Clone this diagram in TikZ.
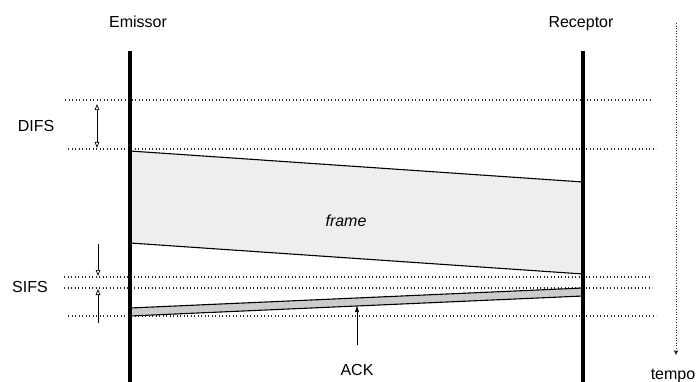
\documentclass[tikz,border=0pt]{standalone}
\usepackage{fontspec}
\setmainfont{Liberation Sans}
\usetikzlibrary{arrows.meta, positioning, calc}
\definecolor{framegray}{RGB}{238,238,238}
\definecolor{ackgray}{RGB}{204,204,204}
\definecolor{dotgray}{RGB}{40,40,40}

\begin{document}
\begin{tikzpicture}[x=1pt, y=-1pt,
    lbl/.style={font=\fontsize{16}{19}\selectfont, inner sep=0pt, anchor=base},
    station/.style={line width=3.8pt},
    slot/.style={dotgray, line width=1.1pt, dash pattern=on 1.1pt off 2.4pt},
    opentip/.tip={Triangle[open, length=6pt, width=4.5pt]},
    gaparrow/.style={line width=0.7pt, -opentip},
    msg/.style={draw=black, line width=1.1pt}]
  \useasboundingbox (0,0) rectangle (696,382);

  % stations
  \node[lbl] (emissor) at (138,28) {Emissor};
  \node[lbl] (receptor) at (581,28) {Receptor};
  \coordinate (etop) at (130,51);
  \coordinate (ebot) at (130,382);
  \coordinate (rtop) at (583,51);
  \coordinate (rbot) at (583,382);

  % time slots
  \coordinate (d1l) at (65,100);  \coordinate (d1r) at (652,100);
  \coordinate (d2l) at (68,149);  \coordinate (d2r) at (656,149);
  \coordinate (s1l) at (64,277);  \coordinate (s1r) at (652,277);
  \coordinate (s2l) at (64,288);  \coordinate (s2r) at (652,288);
  \coordinate (s3l) at (68,316);  \coordinate (s3r) at (656,316);
  \foreach \a/\b in {d1l/d1r, d2l/d2r, s1l/s1r, s2l/s2r, s3l/s3r}
    \draw[slot] (\a) -- (\b);

  % frame and ACK
  \draw[msg, fill=framegray] (130,151) -- (583,182) -- (583,274) -- (130,243) -- cycle;
  \node[lbl, font=\fontsize{16}{19}\selectfont\itshape] (frame) at (346,227) {frame};
  \draw[msg, fill=ackgray] (130,308) -- (583,288) -- (583,296) -- (130,316) -- cycle;

  \draw[station] (etop) -- (ebot);
  \draw[station] (rtop) -- (rbot);

  % DIFS
  \node[lbl] (difs) at (36,132) {DIFS};
  \coordinate (da) at (97,104);
  \coordinate (db) at (97,148);
  \draw[line width=0.7pt, opentip-opentip] (da) -- (db);

  % SIFS
  \node[lbl] (sifs) at (30,292) {SIFS};
  \coordinate (sa) at (98,244);
  \coordinate (sb) at (98,276);
  \coordinate (sc) at (98,323);
  \coordinate (sd) at (98,289);
  \draw[gaparrow] (sa) -- (sb);
  \draw[gaparrow] (sc) -- (sd);

  % ACK
  \node[lbl] (ack) at (357,375) {ACK};
  \coordinate (ackfoot) at (357,345);
  \coordinate (ackhit) at (357,306);
  \draw[line width=0.8pt, -{Triangle[length=6pt, width=4pt]}] (ackfoot) -- (ackhit);

  % tempo
  \coordinate (t0) at (676,23);
  \coordinate (t1) at (676,355);
  \draw[slot, line width=1pt, dash pattern=on 1pt off 1.6pt, -{Triangle[length=4.5pt, width=4pt]}] (t0) -- (t1);
  \node[lbl] (tempo) at (673,379) {tempo};
\end{tikzpicture}
\end{document}
